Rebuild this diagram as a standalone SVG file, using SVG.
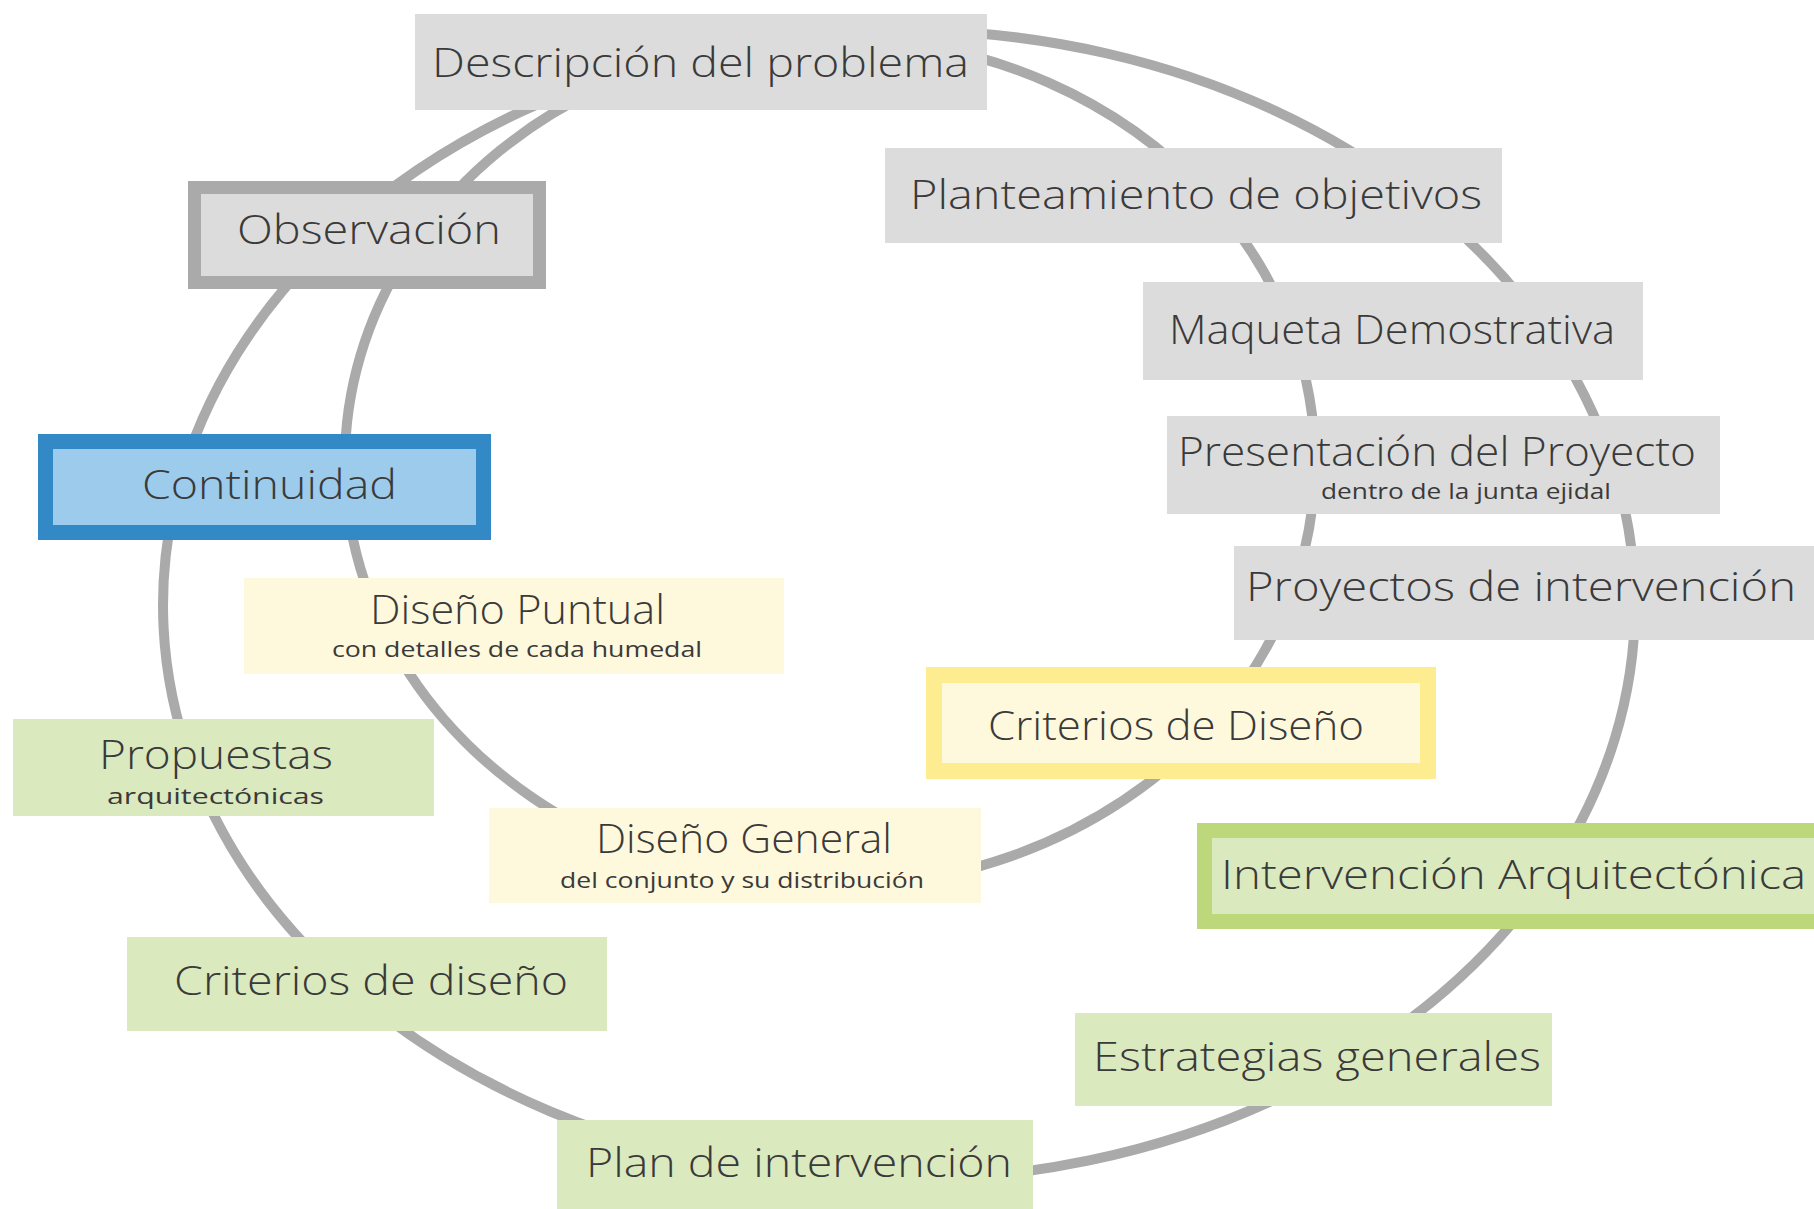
<svg xmlns="http://www.w3.org/2000/svg" width="1814" height="1209" viewBox="0 0 1814 1209">
<style>
.t{font-family:"Open Sans","Lato","Liberation Sans",sans-serif;font-weight:300;font-size:40px;fill:#3a3a3a}
.s{font-family:"Open Sans","Lato","Liberation Sans",sans-serif;font-weight:400;font-size:22px;fill:#3a3a3a}
.c{fill:none;stroke:#aaaaaa;stroke-width:10}
.gray{fill:#dcdcdc}
.yel{fill:#fef8dc}
.grn{fill:#dbe9bf}
</style>
<rect width="1814" height="1209" fill="#ffffff"/>
<g id="connectors">
<path class="c" d="M750 42 A736 575 0 0 1 1415 195"/>
<path class="c" d="M1415 195 A736 575 0 0 1 1546.1 331"/>
<path class="c" d="M1546.1 331 A736 575 0 0 1 1612.9 465"/>
<path class="c" d="M1612.9 465 A736 575 0 0 1 1634.8 593"/>
<path class="c" d="M1634.8 593 A736 575 0 0 1 1548.1 876"/>
<path class="c" d="M1548.1 876 A736 575 0 0 1 1349 1060"/>
<path class="c" d="M1349 1060 A736 575 0 0 1 800 1174.8"/>
<path class="c" d="M800 1174.8 A736 575 0 0 1 345.5 984"/>
<path class="c" d="M345.5 984 A736 575 0 0 1 192.8 767"/>
<path class="c" d="M192.8 767 A736 575 0 0 1 178.7 487"/>
<path class="c" d="M178.7 487 A736 575 0 0 1 335.6 235"/>
<path class="c" d="M335.6 235 A736 575 0 0 1 750 42"/>
<path class="c" d="M850 37.4 A485 425 0 0 1 1207.3 195"/>
<path class="c" d="M1207.3 195 A485 425 0 0 1 1291.4 331"/>
<path class="c" d="M1291.4 331 A485 425 0 0 1 1315 465"/>
<path class="c" d="M1315 465 A485 425 0 0 1 1291.4 593"/>
<path class="c" d="M1291.4 593 A485 425 0 0 1 1212.8 723"/>
<path class="c" d="M1212.8 723 A485 425 0 0 1 760 882.5"/>
<path class="c" d="M760 882.5 A485 425 0 0 1 382.6 626"/>
<path class="c" d="M382.6 626 A485 425 0 0 1 345.8 487"/>
<path class="c" d="M345.8 487 A485 425 0 0 1 420 235"/>
<path class="c" d="M420 235 A485 425 0 0 1 850 37.4"/>
</g>
<g id="descripcion">
<rect class="gray" x="415" y="14" width="572" height="96"/>
<text class="t" x="432" y="77" textLength="537" lengthAdjust="spacingAndGlyphs">Descripción del problema</text>
</g>
<g id="planteamiento">
<rect class="gray" x="885" y="148" width="617" height="95"/>
<text class="t" x="910" y="209" textLength="572" lengthAdjust="spacingAndGlyphs">Planteamiento de objetivos</text>
</g>
<g id="maqueta">
<rect class="gray" x="1143" y="282" width="500" height="98"/>
<text class="t" x="1169" y="344" textLength="446" lengthAdjust="spacingAndGlyphs">Maqueta Demostrativa</text>
</g>
<g id="presentacion">
<rect class="gray" x="1167" y="416" width="553" height="98"/>
<text class="t" x="1178" y="466" textLength="518" lengthAdjust="spacingAndGlyphs">Presentación del Proyecto</text>
<text class="s" x="1321" y="499" textLength="290" lengthAdjust="spacingAndGlyphs">dentro de la junta ejidal</text>
</g>
<g id="proyectos">
<rect class="gray" x="1234" y="546" width="600" height="94"/>
<text class="t" x="1246" y="601" textLength="550" lengthAdjust="spacingAndGlyphs">Proyectos de intervención</text>
</g>
<g id="observacion">
<rect x="194.5" y="187.5" width="345" height="95" fill="#dcdcdc" stroke="#aaaaaa" stroke-width="13"/>
<text class="t" x="237" y="244" textLength="264" lengthAdjust="spacingAndGlyphs">Observación</text>
</g>
<g id="continuidad">
<rect x="45.5" y="441.5" width="438" height="91" fill="#9dcbeb" stroke="#3389c6" stroke-width="15"/>
<text class="t" x="142" y="499" textLength="255" lengthAdjust="spacingAndGlyphs">Continuidad</text>
</g>
<g id="diseno-puntual">
<rect class="yel" x="244" y="578" width="540" height="96"/>
<text class="t" x="370" y="624" textLength="295" lengthAdjust="spacingAndGlyphs">Diseño Puntual</text>
<text class="s" x="332" y="657" textLength="370" lengthAdjust="spacingAndGlyphs">con detalles de cada humedal</text>
</g>
<g id="propuestas">
<rect class="grn" x="13" y="719" width="421" height="97"/>
<text class="t" x="99" y="769" textLength="234" lengthAdjust="spacingAndGlyphs">Propuestas</text>
<text class="s" x="107" y="804" textLength="217" lengthAdjust="spacingAndGlyphs">arquitectónicas</text>
</g>
<g id="criterios-diseno-yellow">
<rect x="934" y="675" width="494" height="96" fill="#fef8dc" stroke="#fdec90" stroke-width="16"/>
<text class="t" x="988" y="740" textLength="376" lengthAdjust="spacingAndGlyphs">Criterios de Diseño</text>
</g>
<g id="diseno-general">
<rect class="yel" x="489" y="808" width="492" height="95"/>
<text class="t" x="596" y="853" textLength="296" lengthAdjust="spacingAndGlyphs">Diseño General</text>
<text class="s" x="560" y="888" textLength="364" lengthAdjust="spacingAndGlyphs">del conjunto y su distribución</text>
</g>
<g id="intervencion-arquitectonica">
<rect x="1204.5" y="830.5" width="620" height="91" fill="#dbe9bf" stroke="#bdd87a" stroke-width="15"/>
<text class="t" x="1221" y="889" textLength="585" lengthAdjust="spacingAndGlyphs">Intervención Arquitectónica</text>
</g>
<g id="estrategias">
<rect class="grn" x="1075" y="1013" width="477" height="93"/>
<text class="t" x="1093" y="1071" textLength="448" lengthAdjust="spacingAndGlyphs">Estrategias generales</text>
</g>
<g id="plan">
<rect class="grn" x="557" y="1120" width="476" height="95"/>
<text class="t" x="586" y="1177" textLength="426" lengthAdjust="spacingAndGlyphs">Plan de intervención</text>
</g>
<g id="criterios-diseno-green">
<rect class="grn" x="127" y="937" width="480" height="94"/>
<text class="t" x="174" y="995" textLength="394" lengthAdjust="spacingAndGlyphs">Criterios de diseño</text>
</g>
</svg>
